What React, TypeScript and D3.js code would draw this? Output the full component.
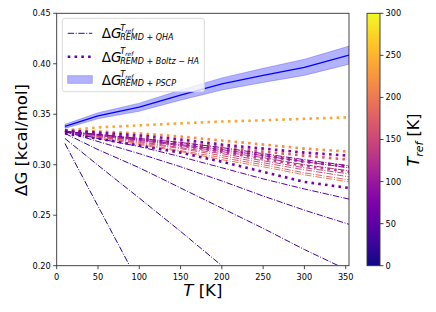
import * as d3 from 'd3'

const W = 436
const H = 312
const M = { left: 56.7, right: 349, top: 13.3, bottom: 265.7 }
const CB = { left: 367, right: 380 }
const FONT = 'DejaVu Sans'

const T_GRID = [10, 50, 100, 150, 200, 250, 300, 354]

// REMD + QHA curves (dash-dot), keyed by T_ref
const QHA_TREF = [10, 20, 30, 40, 50, 70, 95, 120, 140, 160, 180, 200]
const QHA_VALUES: (number | null)[][] = [
  [0.321, 0.259, 0.182, null, null, null, null, null],
  [0.326, 0.2995, 0.267, 0.234, 0.2, 0.166, null, null],
  [0.331, 0.315, 0.297, 0.277, 0.257, 0.237, 0.216, 0.195],
  [0.333, 0.323, 0.311, 0.298, 0.284, 0.269, 0.255, 0.241],
  [0.333, 0.326, 0.318, 0.308, 0.297, 0.286, 0.276, 0.266],
  [0.333, 0.33, 0.326, 0.322, 0.317, 0.311, 0.305, 0.299],
  [0.333, 0.33, 0.325, 0.32, 0.315, 0.309, 0.303, 0.297],
  [0.333, 0.329, 0.324, 0.319, 0.313, 0.307, 0.3, 0.294],
  [0.333, 0.329, 0.323, 0.317, 0.311, 0.304, 0.297, 0.291],
  [0.333, 0.328, 0.322, 0.316, 0.309, 0.302, 0.295, 0.288],
  [0.333, 0.328, 0.321, 0.314, 0.307, 0.3, 0.292, 0.285],
  [0.332, 0.327, 0.32, 0.313, 0.305, 0.298, 0.29, 0.283],
]

// REMD + Boltz-HA curves (dotted)
const BOLTZ_TREF = [70, 80, 110, 140, 170, 200, 220, 240]
const BOLTZ_VALUES: number[][] = [
  [0.331, 0.326, 0.319, 0.312, 0.303, 0.293, 0.283, 0.277],
  [0.334, 0.332, 0.329, 0.325, 0.32, 0.316, 0.312, 0.309],
  [0.333, 0.33, 0.326, 0.321, 0.315, 0.309, 0.303, 0.298],
  [0.333, 0.33, 0.325, 0.319, 0.313, 0.306, 0.299, 0.293],
  [0.333, 0.33, 0.326, 0.322, 0.318, 0.313, 0.309, 0.305],
  [0.334, 0.331, 0.327, 0.322, 0.316, 0.31, 0.304, 0.298],
  [0.334, 0.333, 0.331, 0.328, 0.324, 0.32, 0.316, 0.313],
  [0.334, 0.337, 0.339, 0.341, 0.3428, 0.344, 0.3455, 0.347],
]

// REMD + PSCP mean and band
const PSCP_MEAN = [0.338, 0.3485, 0.357, 0.369, 0.38, 0.3885, 0.3965, 0.4085]
const PSCP_LO = [0.336, 0.3455, 0.353, 0.364, 0.374, 0.3815, 0.3885, 0.3995]
const PSCP_HI = [0.340, 0.3515, 0.361, 0.374, 0.386, 0.3955, 0.4045, 0.4175]

const X_TICKS = [0, 50, 100, 150, 200, 250, 300, 350]
const Y_TICKS = [0.2, 0.25, 0.3, 0.35, 0.4, 0.45]
const CB_TICKS = [0, 50, 100, 150, 200, 250, 300]

const x = d3.scaleLinear().domain([0, 354]).range([M.left, M.right])
const y = d3.scaleLinear().domain([0.2, 0.45]).range([M.bottom, M.top])
const cb = d3.scaleLinear().domain([0, 300]).range([M.bottom, M.top])
const color = (t: number) => d3.interpolatePlasma(t / 300)

const curve = d3
  .line<number | null>()
  .defined((v) => v != null)
  .x((_, i) => x(T_GRID[i]))
  .y((v) => y(v as number))

const band = d3
  .area<number>()
  .x((_, i) => x(T_GRID[i]))
  .y0((_, i) => y(PSCP_LO[i]))
  .y1((_, i) => y(PSCP_HI[i]))

const DASHDOT = '6.4 1.6 1 1.6'
const DOTTED = '2.6 4.2'

type Mark = { tref: number; kind: 'qha' | 'boltz'; values: (number | null)[] }
// high T_ref drawn first so the purple curves sit on top
const marks: Mark[] = [
  ...QHA_TREF.map((tref, i) => ({ tref, kind: 'qha' as const, values: QHA_VALUES[i] })),
  ...BOLTZ_TREF.map((tref, i) => ({ tref, kind: 'boltz' as const, values: BOLTZ_VALUES[i] })),
].sort((a, b) => b.tref - a.tref)

function LegendLabel({ x0, y0, sub }: { x0: number; y0: number; sub: string }) {
  const sx = x0 + 18.5
  return (
    <g fontFamily={FONT} fill="#000">
      <text x={x0} y={y0 + 5} fontSize={13.5}>
        Δ<tspan fontStyle="italic">G</tspan>
      </text>
      <text x={sx} y={y0 - 2.4} fontSize={8.2} fontStyle="italic">
        T<tspan fontSize={5.8} dy={1.6}>ref</tspan>
      </text>
      <text x={sx} y={y0 + 6.8} fontSize={8} fontStyle="italic">
        {sub}
      </text>
    </g>
  )
}

export default function App() {
  const lx0 = 67.7
  const lx1 = 92.3
  return (
    <svg
      width={W}
      height={H}
      viewBox={`0 0 ${W} ${H}`}
      style={{ position: 'absolute', left: 0, top: 0, background: '#fff' }}
    >
      <defs>
        <clipPath id="plot">
          <rect x={M.left} y={M.top} width={M.right - M.left} height={M.bottom - M.top} />
        </clipPath>
        <linearGradient id="plasma" x1="0" y1="1" x2="0" y2="0">
          {d3.range(0, 1.0001, 0.05).map((t) => (
            <stop key={t} offset={t} stopColor={d3.interpolatePlasma(t)} />
          ))}
        </linearGradient>
      </defs>

      <g clipPath="url(#plot)">
        {marks.map((m, i) =>
          m.kind === 'qha' ? (
            <path
              key={i}
              d={curve(m.values) ?? ''}
              fill="none"
              stroke={color(m.tref)}
              strokeWidth={1}
              strokeDasharray={DASHDOT}
            />
          ) : (
            <path
              key={i}
              d={curve(m.values) ?? ''}
              fill="none"
              stroke={color(m.tref)}
              strokeWidth={2.6}
              strokeDasharray={DOTTED}
            />
          ),
        )}
        <path d={band(PSCP_MEAN) ?? ''} fill="#0000ff" fillOpacity={0.3} stroke="#0000ff" strokeOpacity={0.3} strokeWidth={0.8} />
        <path d={curve(PSCP_MEAN) ?? ''} fill="none" stroke="#0000ff" strokeWidth={1.3} />
      </g>

      {/* axes frame */}
      <rect
        x={M.left}
        y={M.top}
        width={M.right - M.left}
        height={M.bottom - M.top}
        fill="none"
        stroke="#333"
        strokeWidth={0.9}
      />

      <g fontFamily={FONT} fontSize={8.2} fill="#000">
        {X_TICKS.map((t) => (
          <g key={t}>
            <line x1={x(t)} x2={x(t)} y1={M.bottom} y2={M.bottom + 3.5} stroke="#333" strokeWidth={0.9} />
            <text x={x(t)} y={M.bottom + 14.4} textAnchor="middle">
              {t}
            </text>
          </g>
        ))}
        {Y_TICKS.map((t) => (
          <g key={t}>
            <line x1={M.left - 3.5} x2={M.left} y1={y(t)} y2={y(t)} stroke="#333" strokeWidth={0.9} />
            <text x={M.left - 6} y={y(t)} dy="0.36em" textAnchor="end">
              {d3.format('.2f')(t)}
            </text>
          </g>
        ))}
      </g>

      <text
        transform={`translate(27,140) rotate(-90)`}
        textAnchor="middle"
        fontFamily={FONT}
        fontSize={16.5}
      >
        ΔG [kcal/mol]
      </text>
      <text x={(M.left + M.right) / 2} y={296} textAnchor="middle" fontFamily={FONT} fontSize={16.5}>
        <tspan fontStyle="italic">T</tspan> [K]
      </text>

      {/* legend */}
      <rect x={62.3} y={18.3} width={142} height={73.4} rx={2.5} fill="#fff" fillOpacity={0.8} stroke="#d6d6d6" strokeWidth={0.9} />
      <line x1={lx0} x2={lx1} y1={33.3} y2={33.3} stroke={color(25)} strokeWidth={1} strokeDasharray={DASHDOT} />
      <LegendLabel x0={101.7} y0={33.3} sub="REMD + QHA" />
      <line x1={lx0} x2={lx1} y1={56.7} y2={56.7} stroke={color(60)} strokeWidth={2.6} strokeDasharray={DOTTED} />
      <LegendLabel x0={101.7} y0={56.7} sub="REMD + Boltz − HA" />
      <rect x={lx0} y={75.7} width={lx1 - lx0} height={7.6} fill="#0000ff" fillOpacity={0.3} stroke="#0000ff" strokeOpacity={0.3} strokeWidth={0.8} />
      <LegendLabel x0={101.7} y0={79.5} sub="REMD + PSCP" />

      {/* colorbar */}
      <rect x={CB.left} y={M.top} width={CB.right - CB.left} height={M.bottom - M.top} fill="url(#plasma)" stroke="#333" strokeWidth={0.9} />
      <g fontFamily={FONT} fontSize={8.2} fill="#000">
        {CB_TICKS.map((t) => (
          <g key={t}>
            <line x1={CB.right} x2={CB.right + 3.5} y1={cb(t)} y2={cb(t)} stroke="#333" strokeWidth={0.9} />
            <text x={CB.right + 5.5} y={cb(t)} dy="0.36em">
              {t}
            </text>
          </g>
        ))}
      </g>
      <text transform="translate(419,140) rotate(-90)" textAnchor="middle" fontFamily={FONT} fontSize={16}>
        <tspan fontStyle="italic">T</tspan>
        <tspan fontStyle="italic" fontSize={11} dy={3.5}>ref</tspan>
        <tspan dy={-3.5}> [K]</tspan>
      </text>
    </svg>
  )
}
